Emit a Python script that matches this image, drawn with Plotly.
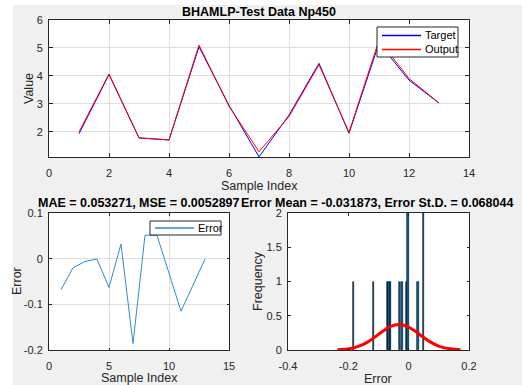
import plotly.graph_objects as go

# ---------------- data ----------------
sample_index = [1, 2, 3, 4, 5, 6, 7, 8, 9, 10, 11, 12, 13]
target = [1.93, 4.05, 1.78, 1.71, 5.04, 2.95, 1.105, 2.60, 4.45, 1.95, 5.17, 3.85, 3.03]
output = [1.998, 4.07, 1.786, 1.711, 5.103, 2.918, 1.291, 2.5485, 4.399, 1.9795, 5.285, 3.908, 3.031]
errors = [-0.068, -0.020, -0.006, -0.001, -0.063, 0.032, -0.186, 0.0515, 0.051, -0.0295, -0.115, -0.058, -0.001]

# fitted normal curve
curve_x = [-0.236, -0.21, -0.185, -0.16, -0.135, -0.11, -0.085, -0.06, -0.032,
           -0.005, 0.02, 0.045, 0.07, 0.095, 0.12, 0.145, 0.172]
curve_y = [0.004, 0.012, 0.030, 0.064, 0.119, 0.194, 0.277, 0.344, 0.372,
           0.346, 0.280, 0.198, 0.122, 0.065, 0.031, 0.013, 0.004]

title_top = "BHAMLP-Test Data Np450"
title_left = "MAE = 0.053271, MSE = 0.0052897"
title_right = "Error Mean = -0.031873, Error St.D. = 0.068044"

top_xticks = [0, 2, 4, 6, 8, 10, 12, 14]
top_yticks = [2, 3, 4, 5, 6]
err_xticks = [0, 5, 10, 15]
err_yticks = [-0.2, -0.1, 0, 0.1]
err_yticktext = ["-0.2", "-0.1", "0", "0.1"]
hist_xticks = [-0.4, -0.2, 0, 0.2]
hist_xticktext = ["-0.4", "-0.2", "0", "0.2"]
hist_yticks = [0, 0.5, 1, 1.5, 2]
hist_yticktext = ["0", "0.5", "1", "1.5", "2"]

# ---------------- layout helpers ----------------
W, H = 522, 385
FONT = "Arial, Liberation Sans, sans-serif"
AX = "#262626"
GRID = "#dfdfdf"
C_TARGET = "#0000ff"
C_OUTPUT = "#ff0000"
C_ERROR = "#2e8ad0"


def px(x):
    return x / W


def py(y):
    return 1 - y / H


fig = go.Figure()

fig.add_trace(go.Scatter(x=sample_index, y=target, mode="lines", name="Target",
                         line=dict(color=C_TARGET, width=1), xaxis="x", yaxis="y"))
fig.add_trace(go.Scatter(x=sample_index, y=output, mode="lines", name="Output",
                         line=dict(color=C_OUTPUT, width=1), xaxis="x", yaxis="y"))
fig.add_trace(go.Scatter(x=sample_index, y=errors, mode="lines", name="Error",
                         line=dict(color=C_ERROR, width=1), xaxis="x2", yaxis="y2"))
fig.add_trace(go.Histogram(x=errors, autobinx=False,
                           xbins=dict(start=-0.186, end=0.0525, size=0.00476),
                           marker=dict(color="#0066aa", line=dict(color="#000000", width=0.6)),
                           xaxis="x3", yaxis="y3"))
fig.add_trace(go.Scatter(x=curve_x, y=curve_y, mode="lines", line_shape="spline",
                         line=dict(color="#ff0000", width=3), xaxis="x3", yaxis="y3"))


def axis(domain, rng, tickvals, ticktext=None, grid=True, anchor=None, ticklen=4, standoff=None):
    d = dict(domain=domain, range=rng, tickvals=tickvals, showgrid=grid, gridcolor=GRID,
             gridwidth=1, zeroline=False, showline=True, linecolor=AX, linewidth=1,
             mirror="ticks", ticks="inside", ticklen=ticklen, tickcolor=AX, tickwidth=1,
             tickfont=dict(family=FONT, size=11, color=AX), anchor=anchor, automargin=False)
    if ticktext is not None:
        d["ticktext"] = ticktext
    if standoff is not None:
        d["ticklabelstandoff"] = standoff
    return d


top_xd = [px(49), px(469)]
top_yd = [py(157), py(20)]
bl_xd = [px(49), px(229)]
bl_yd = [py(350), py(213)]
br_xd = [px(288), px(469)]
br_yd = [py(350), py(213)]

fig.update_layout(
    width=W, height=H,
    margin=dict(l=0, r=0, t=0, b=0, autoexpand=False),
    paper_bgcolor="#f0f0f0",
    plot_bgcolor="#ffffff",
    bargap=0,
    showlegend=False,
    font=dict(family=FONT, color=AX),
    xaxis=axis(top_xd, [0, 14], top_xticks, anchor="y", standoff=6),
    yaxis=axis(top_yd, [1.1, 6], top_yticks, anchor="x", standoff=3),
    xaxis2=axis(bl_xd, [0, 15], err_xticks, anchor="y2", ticklen=2.5, standoff=6),
    yaxis2=axis(bl_yd, [-0.2, 0.1], err_yticks, err_yticktext, anchor="x2", ticklen=2.5, standoff=3),
    xaxis3=axis(br_xd, [-0.4, 0.2], hist_xticks, hist_xticktext, grid=False, anchor="y3", ticklen=2.5, standoff=6),
    yaxis3=axis(br_yd, [0, 2], hist_yticks, hist_yticktext, grid=False, anchor="x3", ticklen=2.5, standoff=3),
)

# white strips at the left and top edges of the picture
fig.add_shape(type="rect", xref="paper", yref="paper", x0=0, x1=px(13), y0=0, y1=1,
              fillcolor="#ffffff", line=dict(width=0), layer="below")
fig.add_shape(type="rect", xref="paper", yref="paper", x0=0, x1=1, y0=py(5), y1=1,
              fillcolor="#ffffff", line=dict(width=0), layer="below")


def label(text, x, y, size=12.5, bold=False, angle=0, anchor="center", color=None):
    fig.add_annotation(text=f"<b>{text}</b>" if bold else text, x=px(x), y=py(y),
                       xref="paper", yref="paper", showarrow=False, textangle=angle,
                       xanchor=anchor, yanchor="middle",
                       font=dict(family=FONT, size=size,
                                 color=color or ("#000000" if bold else AX)))


def legend_box(x0, y0, x1, y1, entries):
    fig.add_shape(type="rect", xref="paper", yref="paper", x0=px(x0), x1=px(x1),
                  y0=py(y1), y1=py(y0), fillcolor="#ffffff",
                  line=dict(color=AX, width=1), layer="above")
    for name, color, ly in entries:
        fig.add_shape(type="line", xref="paper", yref="paper", x0=px(x0 + 5), x1=px(x0 + 44),
                      y0=py(ly), y1=py(ly), line=dict(color=color, width=1.5), layer="above")
        label(name, x0 + 46, ly, size=11, anchor="left", color="#000000")


legend_box(377, 27, 458, 57, [("Target", C_TARGET, 35.5), ("Output", C_OUTPUT, 49.5)])
legend_box(150, 221, 221, 235, [("Error", C_ERROR, 228)])

label(title_top, 259, 12, bold=True)
label("Sample Index", 259, 186)
label("Value", 29, 89, angle=-90)
label(title_left, 139, 203, bold=True)
label(title_right, 377, 203, bold=True)
label("Sample Index", 139, 378)
label("Error", 17, 281, angle=-90)
label("Error", 378, 379)
label("Frequency", 258, 281, angle=-90)

fig.write_html("out.html",
               post_script="document.body.style.margin='0';document.body.style.overflow='hidden';")
